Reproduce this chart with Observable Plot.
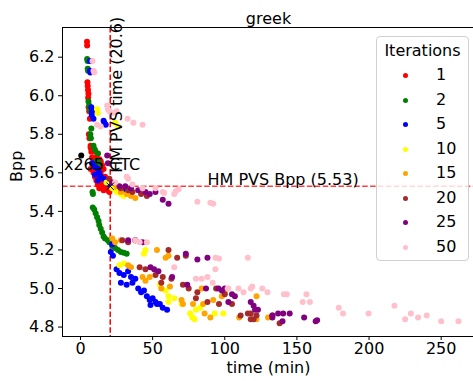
<!DOCTYPE html>
<html><head><meta charset="utf-8">
<script src="https://cdn.jsdelivr.net/npm/d3@7"></script>
<script src="https://cdn.jsdelivr.net/npm/@observablehq/plot@0.6"></script>
<style>
body{margin:0;background:#fff;font-family:"DejaVu Sans",sans-serif}
#wrap{position:relative;width:473px;height:381px;overflow:hidden}
#legend{position:absolute;left:376px;top:36px;width:91px;height:223px;border:1px solid #d0d0d0;border-radius:4px;background:rgba(255,255,255,0.8);font-size:16px;color:#000}
#legend .title{position:absolute;left:0;width:91px;text-align:center;top:4px}
#legend .row{position:absolute;left:0;width:91px;height:20px}
#legend .mk{position:absolute;left:26px;top:8px;width:5px;height:5px;border-radius:50%}
#legend .lb{position:absolute;left:59px;top:0px}
</style>
</head><body><div id="wrap"></div>
<script>
const title = "greek";
const xLabel = "time (min)";
const yLabel = "Bpp";
const legendTitle = "Iterations";
const iterations = [1, 2, 5, 10, 15, 20, 25, 50];
const colors = ["red", "green", "blue", "yellow", "orange", "brown", "purple", "pink"];
const xTicks = [0, 50, 100, 150, 200, 250];
const yTicks = [4.8, 5.0, 5.2, 5.4, 5.6, 5.8, 6.0, 6.2];
const hmTime = 20.6;
const hmBpp = 5.53;
const x265Point = [0.5, 5.69];
const x265LabelPos = [-11.5, 5.64];
const hmTimeLabelY = 5.6;
const hmBppLabelX = 88;

const iter1 = [[4.5,6.28],[4.6,6.26],[4.8,6.07],[5,6.05],[5.2,6.03],[5.5,6.01],[5.3,5.99],[5.6,5.94],[6,5.92],[6.5,5.88],[5.8,5.80],[6.2,5.78],[7,5.74],[9,5.73],[7,5.73],[7.5,5.71],[10,5.71],[12,5.70],[8,5.68],[11,5.68],[9,5.66],[13,5.67],[14,5.66],[8.5,5.64],[12,5.64],[15,5.64],[10,5.62],[7,5.62],[16,5.62],[9,5.60],[11,5.60],[14,5.60],[10,5.58],[12,5.58],[17,5.58],[13,5.56],[11,5.56],[15,5.56],[19,5.57],[14,5.55],[18,5.55],[15,5.54],[12,5.54],[21,5.54],[16,5.53],[19,5.53],[17,5.52],[13,5.52],[18,5.52],[16,5.51],[19,5.51],[20,5.50]];
const iter2 = [[4.6,6.19],[4.9,6.18],[5,6.14],[5.2,6.13],[5.5,5.97],[6,5.95],[6.5,5.93],[7,5.92],[7.5,5.83],[6.8,5.80],[7.2,5.78],[9,5.74],[10,5.72],[12,5.70],[11,5.66],[13,5.65],[8.3,5.50],[8.6,5.49],[8.5,5.42],[9.5,5.41],[10.5,5.39],[11.5,5.37],[12.5,5.35],[13,5.33],[14,5.31],[15,5.29],[16,5.27],[17,5.26],[19,5.25],[20,5.24],[22,5.22],[24,5.21],[26,5.20],[28,5.19],[30,5.185],[32,5.18]];
const iter5 = [[6.5,6.18],[6.6,6.13],[6.8,6.12],[7.5,5.94],[8,5.92],[7.8,5.90],[9,5.88],[16,5.87],[16.5,5.86],[17.5,5.85],[8,5.65],[10,5.63],[12,5.62],[13,5.60],[10,5.59],[14,5.58],[16,5.57],[12,5.56],[18,5.55],[20,5.54],[22,5.53],[24,5.52],[26,5.51],[28,5.50],[30,5.51],[32,5.50],[22,5.23],[21,5.19],[22.5,5.17],[25,5.10],[27,5.08],[30,5.07],[33,5.09],[35,5.06],[38,5.05],[28,5.03],[32,5.02],[36,5.03],[40,5.00],[42,4.98],[44,4.99],[46,4.96],[48,4.94],[50,4.95],[52,4.93],[55,4.92],[57,4.90],[60,4.89],[48.5,4.915],[53,4.92]];
const iter10 = [[11.5,5.93],[12,5.91],[24,5.86],[26,5.84],[18,5.55],[22,5.52],[25,5.50],[28,5.49],[30,5.48],[27,5.12],[30,5.13],[45,5.20],[44,5.18],[55,5.02],[59,4.99],[61,4.96],[65,4.95],[61,4.93],[76,4.87],[77.5,4.85],[80,4.89],[83,4.90],[79,4.84],[93,4.87],[99,4.87],[70,4.92]];
const iter15 = [[25,5.53],[28,5.50],[32,5.49],[35,5.48],[38,5.47],[22,5.26],[24,5.24],[28,5.25],[53,5.20],[61,5.17],[59,5.16],[33,5.12],[35,5.11],[43,5.06],[45,5.04],[48,5.06],[56,5.00],[62,5.01],[70,4.94],[71,4.92],[78,4.92],[86,4.87],[90,4.85],[84,5.00],[85,4.92],[92,4.94],[98,4.96],[100,4.98],[110,4.85],[122,4.96],[130,4.85],[122,4.84]];
const iter20 = [[20,5.57],[28,5.52],[33,5.51],[36,5.50],[42,5.49],[46,5.48],[29,5.25],[33,5.24],[38,5.25],[61,5.20],[67,5.16],[73,5.17],[41,5.11],[45,5.10],[52,5.07],[57,5.06],[56,5.03],[63,5.05],[71,5.02],[75,5.00],[81,4.98],[80,4.95],[88,4.93],[94,5.00],[100,4.97],[96,4.92],[105,4.92],[111,4.86],[116,4.87],[118,4.87],[120,4.84],[122,4.86],[133,4.86],[138,4.82],[118,4.84]];
const iter25 = [[18.5,5.69],[19,5.65],[22,5.55],[27,5.53],[31,5.53],[35,5.52],[40,5.51],[45,5.50],[48,5.49],[52,5.50],[57,5.46],[61,5.44],[33,5.25],[38,5.25],[43,5.24],[73,5.18],[81,5.15],[88,5.16],[48.5,5.11],[51,5.10],[54,5.09],[63.5,5.06],[74,5.02],[87,5.00],[95.6,5.00],[98,4.99],[100,5.00],[102.5,4.93],[105,4.97],[107,4.96],[118,4.93],[120,4.91],[121,4.89],[123,4.89],[133,4.86],[133,4.85],[137,4.87],[140.5,4.87],[145,4.87],[140,4.83],[155,4.85],[163,4.83],[164,4.835]];
const iter50 = [[8.3,6.18],[9,6.13],[9.5,6.12],[18.5,5.95],[19,5.93],[20,5.92],[11.5,5.85],[14,5.84],[32.6,5.88],[36.7,5.86],[43,5.85],[22,5.91],[25,5.92],[32,5.58],[33,5.57],[24,5.55],[36,5.54],[43,5.52],[52,5.52],[57,5.50],[58,5.495],[65,5.49],[66,5.505],[68,5.515],[81,5.45],[90,5.445],[92,5.44],[38,5.25],[41,5.24],[46,5.24],[65,5.11],[93.6,5.16],[96,5.155],[93.5,5.10],[80,5.05],[84,5.05],[88,5.06],[91.6,5.03],[102.5,5.0],[102,5.0],[109.5,5.0],[113,4.98],[118,5.0],[119,5.01],[126,5.0],[129.6,4.98],[141,4.97],[143,4.97],[156.6,4.97],[154,4.93],[159,4.93],[116,5.16],[179,4.90],[182,4.87],[199.7,4.87],[217.6,4.91],[225,4.84],[229,4.87],[234,4.85],[240,4.86],[250,4.83],[262,4.83]];

const series = [iter1, iter2, iter5, iter10, iter15, iter20, iter25, iter50];
const points = series.flatMap((s, i) => s.map(([t, b]) => ({t, b, it: iterations[i]})));

const font = "DejaVu Sans";
const plot = Plot.plot({
  width: 473, height: 381,
  marginLeft: 62, marginRight: -1, marginTop: 27, marginBottom: 45,
  style: {fontFamily: font, fontSize: "16px", color: "black", background: "white"},
  x: {domain: [-12.48, 273.1]},
  y: {domain: [4.751, 6.354]},
  color: {domain: iterations, range: colors},
  marks: [
    Plot.ruleX([hmTime], {stroke: "red", strokeWidth: 1.5, strokeDasharray: "5.5,2.4"}),
    Plot.ruleY([hmBpp], {stroke: "red", strokeOpacity: 0.75, strokeWidth: 1.5, strokeDasharray: "5.5,2.4"}),
    Plot.dot(points, {x: "t", y: "b", fill: d => d.it, r: 3}),
    Plot.dot([x265Point], {x: d => d[0], y: d => d[1], fill: "black", r: 3}),
    Plot.dot([[hmTime, hmBpp]], {x: d => d[0], y: d => d[1], symbol: "times", stroke: "black", strokeWidth: 1, r: 3.5}),
    Plot.text(["x265 CTC"], {x: () => x265LabelPos[0], y: () => x265LabelPos[1], textAnchor: "start", fontSize: 16}),
    Plot.text(["HM PVS time (" + hmTime + ")"], {x: () => hmTime, y: () => hmTimeLabelY, rotate: -90, textAnchor: "start", lineAnchor: "top", fontSize: 16}),
    Plot.text(["HM PVS Bpp (" + hmBpp + ")"], {x: () => hmBppLabelX, y: () => hmBpp, textAnchor: "start", lineAnchor: "bottom", dy: -1, fontSize: 16}),
    Plot.frame({stroke: "black"}),
    Plot.axisX({ticks: xTicks, tickSize: 4, tickPadding: 2, label: null, fontSize: 16}),
    Plot.axisY({ticks: yTicks, tickSize: 4, tickPadding: 4, label: null, tickFormat: d3.format(".1f"), fontSize: 16}),
    Plot.text([xLabel], {frameAnchor: "bottom", dy: 36, fontSize: 16}),
    Plot.text([yLabel], {frameAnchor: "left", dx: -46, rotate: -90, fontSize: 16}),
    Plot.text([title], {frameAnchor: "top", dy: -15, fontSize: 16})
  ]
});
const wrap = document.getElementById("wrap");
wrap.appendChild(plot);

const lg = document.createElement("div");
lg.id = "legend";
const tt = document.createElement("div");
tt.className = "title"; tt.textContent = legendTitle;
lg.appendChild(tt);
iterations.forEach((it, i) => {
  const row = document.createElement("div");
  row.className = "row";
  row.style.top = (28 + i * 24.5) + "px";
  const mk = document.createElement("div");
  mk.className = "mk"; mk.style.background = colors[i];
  const lb = document.createElement("div");
  lb.className = "lb"; lb.textContent = it;
  row.appendChild(mk); row.appendChild(lb);
  lg.appendChild(row);
});
wrap.appendChild(lg);
</script></body></html>
